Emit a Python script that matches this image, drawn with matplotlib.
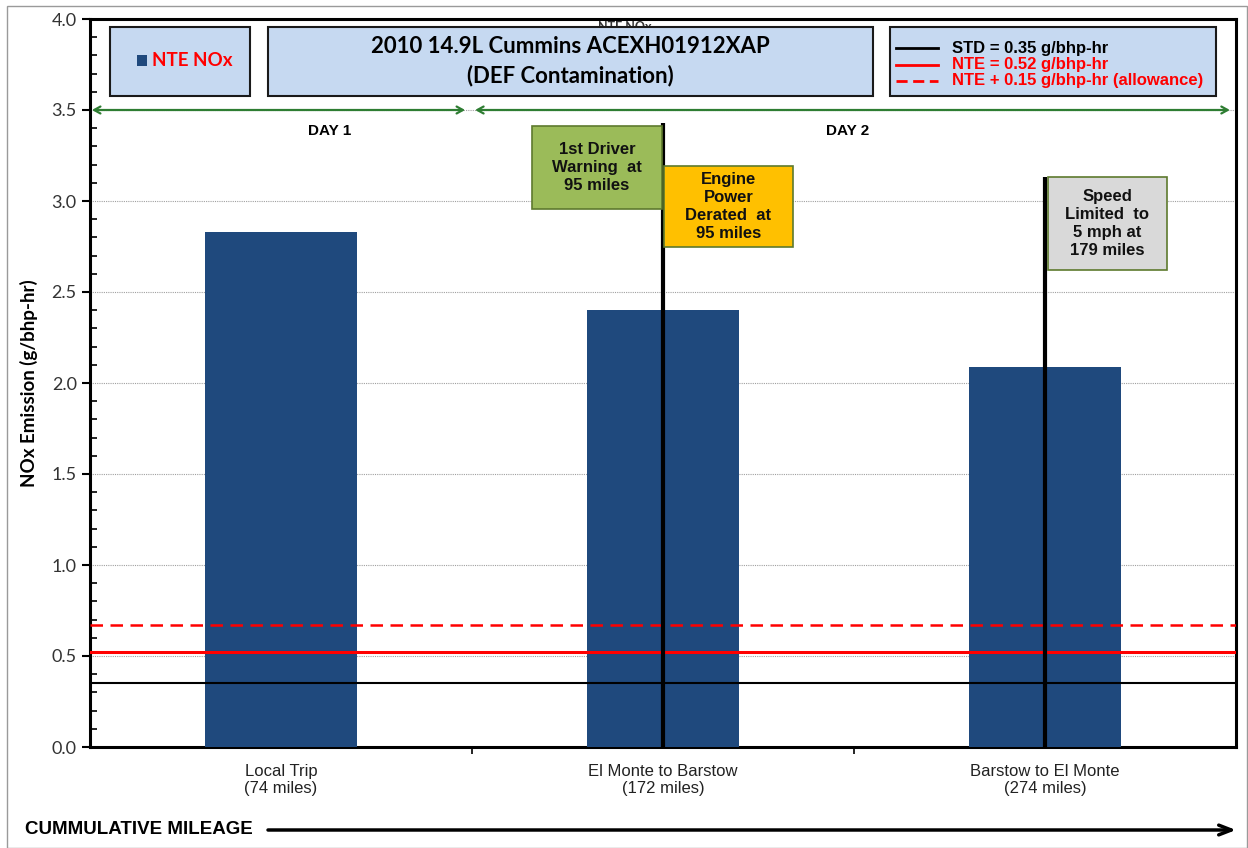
import matplotlib.pyplot as plt
from matplotlib.patches import Rectangle
from matplotlib.ticker import MultipleLocator

# Données
trips = ["Local Trip\n(74 miles)", "El Monte to Barstow\n(172 miles)", "Barstow to El Monte\n(274 miles)"]
nox = [2.83, 2.40, 2.09]

std_limit = 0.35
nte_limit = 0.52
nte_allowance = 0.67

# Événements (barre, hauteur de la ligne verticale)
event_bars = [1, 2]
event_tops = [3.43, 3.13]

W, H = 1248, 848
fig = plt.figure(figsize=(W / 100, H / 100), dpi=100)
ax = fig.add_axes([90 / W, 1 - 747 / H, (1236 - 90) / W, (747 - 19) / H])

# bordure grise autour de la figure
fig.patches.append(Rectangle((7 / W, 0), (W - 8) / W, 1 - 6 / H, transform=fig.transFigure,
                             fill=False, edgecolor="#9a9a9a", lw=1))

x = list(range(len(trips)))
ax.bar(x, nox, width=0.4, color="#1F497D", zorder=3)

ax.set_xlim(-0.5, 2.5)
ax.set_ylim(0, 4.0)
ax.yaxis.set_major_locator(MultipleLocator(0.5))
ax.yaxis.set_minor_locator(MultipleLocator(0.1))
ax.yaxis.grid(True, which="major", linestyle=(0, (1, 1)), color="#a0a0a0", lw=0.8, zorder=0)
ax.set_yticklabels([f"{v:.1f}" for v in ax.get_yticks()], fontfamily="Lato", fontsize=13,
                   color="#333333")
ax.tick_params(axis="y", which="major", direction="out", length=6, width=1.5)
ax.tick_params(axis="y", which="minor", direction="in", length=5, width=1.2)

ax.set_xticks(x)
ax.set_xticklabels(trips, fontfamily="Liberation Sans", fontsize=12, linespacing=1.2,
                   color="#222222")
ax.set_xticks([0.5, 1.5], minor=True)
ax.tick_params(axis="x", which="major", length=0, pad=12)
ax.tick_params(axis="x", which="minor", direction="out", length=5, width=1.2)

for s in ax.spines.values():
    s.set_linewidth(2.2)
    s.set_color("black")

ax.set_ylabel("NOx Emission (g/bhp-hr)", fontfamily="Lato", fontweight="bold", fontsize=13.5,
              labelpad=10)

# limites
ax.axhline(std_limit, color="black", lw=1.5, zorder=4)
ax.axhline(nte_limit, color="red", lw=2.2, zorder=4)
ax.axhline(nte_allowance, color="red", lw=1.8, linestyle=(0, (5, 3)), zorder=4)

# lignes verticales des événements
for b, top in zip(event_bars, event_tops):
    ax.plot([b, b], [0, top], color="black", lw=3, zorder=5, solid_capstyle="butt")

# texte caché derrière la boîte du titre
ax.text(0.9, 3.99, "NTE NOx", ha="center", va="top", fontsize=9, fontfamily="Lato",
        fontweight="bold", color="#333333", zorder=1)

# boîtes du haut
box_fc = "#C6D9F1"
for x0, x1 in [(-0.448, -0.081), (-0.034, 1.550), (1.594, 2.448)]:
    ax.add_patch(Rectangle((x0, 3.577), x1 - x0, 3.956 - 3.577, facecolor=box_fc,
                           edgecolor="#1a1a1a", lw=1.5, zorder=6))

ax.add_patch(Rectangle((-0.378, 3.74), 0.028, 0.06, facecolor="#1F497D", edgecolor="none", zorder=7))
ax.text(-0.337, 3.77, "NTE NOx", ha="left", va="center", fontsize=13.5, fontfamily="Lato",
        fontweight="bold", color="red", zorder=7)

ax.text(0.758, 3.77, "2010 14.9L Cummins ACEXH01912XAP\n(DEF Contamination)", ha="center",
        va="center", fontsize=16, fontfamily="Lato", fontweight="bold", linespacing=1.45, zorder=7)

leg_rows = [(3.84, "black", "-", f"STD = {std_limit:.2f} g/bhp-hr"),
            (3.75, "red", "-", f"NTE = {nte_limit:.2f} g/bhp-hr"),
            (3.66, "red", (0, (4, 2)), "NTE + 0.15 g/bhp-hr (allowance)")]
for yy, c, ls, label in leg_rows:
    ax.plot([1.61, 1.72], [yy, yy], color=c, lw=2, linestyle=ls, zorder=7)
    ax.text(1.756, yy, label, ha="left", va="center", fontsize=12, fontfamily="Liberation Sans",
            fontweight="bold", color=c, zorder=7)

# flèches des jours
for x0, x1, xt, label in [(-0.495, 0.482, 0.128, "DAY 1"), (0.508, 2.484, 1.484, "DAY 2")]:
    ax.annotate("", xy=(x0, 3.5), xytext=(x1, 3.5),
                arrowprops=dict(arrowstyle="<->,head_length=0.45,head_width=0.25",
                                color="#2E7D32", lw=1.6, shrinkA=0, shrinkB=0), zorder=6)
    ax.text(xt, 3.385, label, ha="center", va="center", fontsize=11, fontfamily="Liberation Sans",
            fontweight="bold", zorder=6)

# boîtes d'annotation
notes = [(0.657, 0.997, 2.956, 3.41, "#9BBB59", "1st Driver\nWarning  at\n95 miles"),
         (1.003, 1.340, 2.75, 3.19, "#FFC000", "Engine\nPower\nDerated  at\n95 miles"),
         (2.008, 2.319, 2.62, 3.13, "#D9D9D9", "Speed\nLimited  to\n5 mph at\n179 miles")]
for x0, x1, y0, y1, fc, txt in notes:
    ax.add_patch(Rectangle((x0, y0), x1 - x0, y1 - y0, facecolor=fc, edgecolor="#5E7A2E",
                           lw=1.2, zorder=6))
    ax.text((x0 + x1) / 2, (y0 + y1) / 2, txt, ha="center", va="center", fontsize=12,
            fontfamily="Liberation Sans", fontweight="bold", linespacing=1.25, zorder=7,
            color="#111111")

# axe du kilométrage cumulé
fig.text(25 / W, 1 - 830 / H, "CUMMULATIVE MILEAGE", ha="left", va="center", fontsize=13.5,
         fontfamily="Liberation Sans", fontweight="bold")
ax.annotate("", xy=(1236 / W, 1 - 830 / H), xytext=(268 / W, 1 - 830 / H), xycoords="figure fraction",
            textcoords="figure fraction",
            arrowprops=dict(arrowstyle="->,head_length=0.9,head_width=0.35", color="black", lw=2.5,
                            shrinkA=0, shrinkB=0), annotation_clip=False)

fig.savefig("out.png", dpi=100)
